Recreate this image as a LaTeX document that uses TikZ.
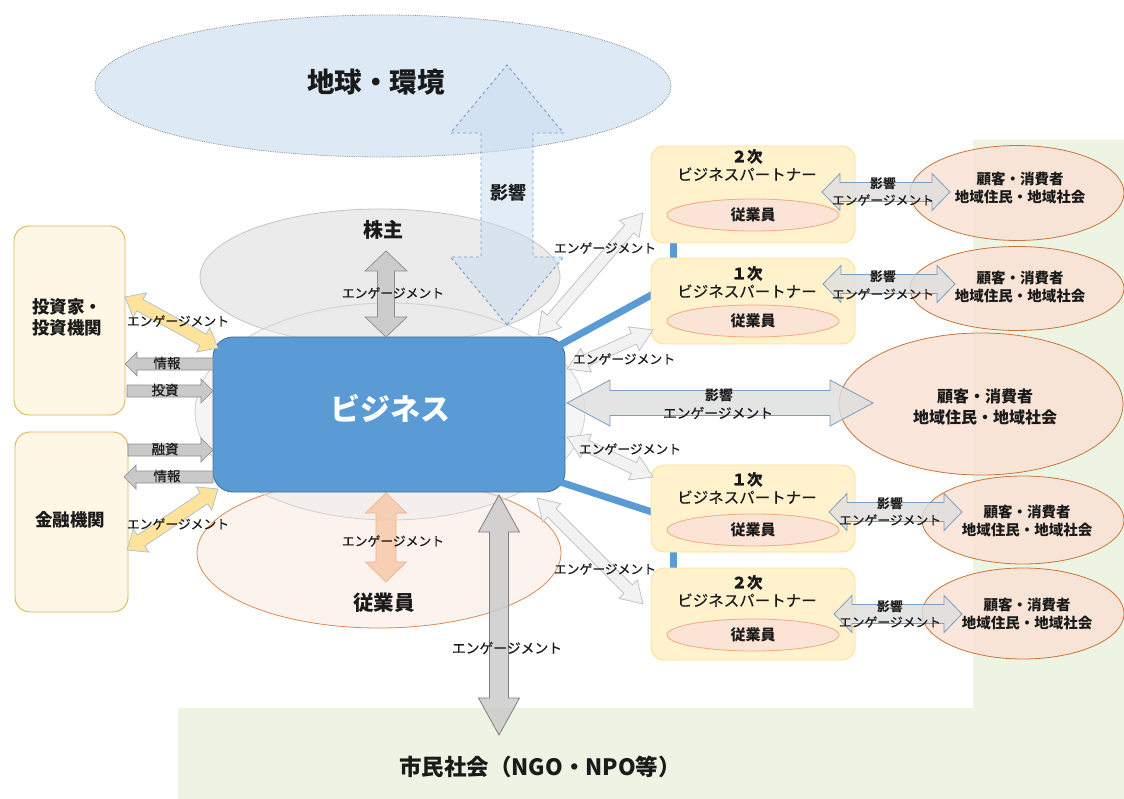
\documentclass[tikz,border=0pt]{standalone}
\usepackage{fontspec}
\setmainfont{Noto Sans CJK JP}
\newfontfamily\jpr{Noto Sans CJK JP}[FakeBold=0.35]
\usetikzlibrary{calc,shapes.geometric}

\definecolor{bgGreen}{HTML}{EDF4E4}
\definecolor{earthF}{HTML}{DDE9F5}
\definecolor{earthB}{HTML}{8E8E8E}
\definecolor{dashB}{HTML}{7A9CC6}
\definecolor{dashF}{HTML}{C9DDF2}
\definecolor{grayEF}{HTML}{EBEBEB}
\definecolor{grayEB}{HTML}{C4C4C4}
\definecolor{empF}{HTML}{FDF3EE}
\definecolor{empB}{HTML}{D98A55}
\definecolor{bizF}{HTML}{5B9BD5}
\definecolor{bizB}{HTML}{41719C}
\definecolor{lboxF}{HTML}{FFF7E5}
\definecolor{lboxB}{HTML}{D6B656}
\definecolor{yelF}{HTML}{FFE39A}
\definecolor{yelB}{HTML}{A8BFD0}
\definecolor{gArF}{HTML}{C9C9C9}
\definecolor{gArB}{HTML}{8C8C8C}
\definecolor{ltArF}{HTML}{F2F2F2}
\definecolor{ltArB}{HTML}{BDBDBD}
\definecolor{bgArF}{HTML}{DEDEDE}
\definecolor{bgArB}{HTML}{7D9DBE}
\definecolor{pF}{HTML}{FFF2CC}
\definecolor{pB}{HTML}{FFE08F}
\definecolor{inF}{HTML}{FBE3D6}
\definecolor{inB}{HTML}{F2A97D}
\definecolor{cuF}{HTML}{FAE2D4}
\definecolor{cuB}{HTML}{C8753C}
\definecolor{orArF}{HTML}{F6C6A6}
\definecolor{orArB}{HTML}{F4B183}
\definecolor{txt}{HTML}{1A1A1A}

% double-headed block arrow: style, from, to, shaft half, head half, head length
\newcommand\dblarrow[6]{%
 \draw[#1] let \p1=(#2), \p2=(#3), \n1={atan2(\y2-\y1,\x2-\x1)} in
  (\p1) -- ($(\p1)+(\n1:#6)+(\n1+90:#5)$) -- ($(\p1)+(\n1:#6)+(\n1+90:#4)$)
  -- ($(\p2)+(\n1+180:#6)+(\n1+90:#4)$) -- ($(\p2)+(\n1+180:#6)+(\n1+90:#5)$)
  -- (\p2) -- ($(\p2)+(\n1+180:#6)+(\n1-90:#5)$) -- ($(\p2)+(\n1+180:#6)+(\n1-90:#4)$)
  -- ($(\p1)+(\n1:#6)+(\n1-90:#4)$) -- ($(\p1)+(\n1:#6)+(\n1-90:#5)$) -- cycle;}
% single-headed block arrow (head at the second point)
\newcommand\sglarrow[6]{%
 \draw[#1] let \p1=(#2), \p2=(#3), \n1={atan2(\y2-\y1,\x2-\x1)} in
  ($(\p1)+(\n1+90:#4)$) -- ($(\p2)+(\n1+180:#6)+(\n1+90:#4)$) -- ($(\p2)+(\n1+180:#6)+(\n1+90:#5)$)
  -- (\p2) -- ($(\p2)+(\n1+180:#6)+(\n1-90:#5)$) -- ($(\p2)+(\n1+180:#6)+(\n1-90:#4)$)
  -- ($(\p1)+(\n1-90:#4)$) -- cycle;}

\tikzset{
 lbox/.style={draw=lboxB, fill=lboxF, rounded corners=15pt, line width=0.9pt, inner sep=0, align=center, font=\bfseries\fontsize{17}{21}\selectfont},
 pbox/.style={draw=pB, fill=pF, rounded corners=13pt, line width=0.9pt, inner sep=0, minimum width=204pt},
 inell/.style={ellipse, draw=inB, fill=inF, line width=0.8pt, minimum width=172pt, minimum height=32pt, inner sep=0, font=\bfseries\fontsize{15}{17}\selectfont},
 cust/.style={ellipse, draw=cuB, fill=cuF, fill opacity=0.85, line width=0.8pt, inner sep=0},
 ctext/.style={align=center, inner sep=0, font=\bfseries\fontsize{14.5}{18}\selectfont},
 ptext/.style={align=center, inner sep=0, font=\jpr\fontsize{15.5}{18}\selectfont},
 lbl/.style={inner sep=0, font=\jpr\fontsize{12.8}{14}\selectfont},
 lblb/.style={inner sep=0, font=\jpr\fontsize{13.8}{15}\selectfont},
 lbli/.style={inner sep=0, font=\jpr\fontsize{13.5}{15}\selectfont},
 lblk/.style={inner sep=0, font=\bfseries\fontsize{12.8}{14}\selectfont},
 yarr/.style={fill=yelF, draw=yelB, line width=0.7pt},
 garr/.style={fill=gArF, draw=gArB, line width=0.7pt},
 larr/.style={fill=ltArF, draw=ltArB, line width=0.7pt},
 barr/.style={fill=bgArF, fill opacity=0.8, draw=bgArB, line width=0.8pt},
 darr/.style={fill=dashF, fill opacity=0.55, draw=dashB, dashed, line width=0.9pt},
 sharr/.style={fill=gArF, fill opacity=0.9, draw=gArB, line width=0.7pt},
 emarr/.style={fill=orArF, fill opacity=0.8, draw=orArB, line width=0.7pt},
 civarr/.style={fill=gArF, fill opacity=0.8, draw=gArB!90!black, line width=0.8pt},
 bline/.style={draw=bizF, line width=7pt},
 every node/.style={text=txt}
}

\begin{document}
\begin{tikzpicture}[x=1pt,y=-1pt]
\useasboundingbox (0,0) rectangle (1124,799);
\fill[white] (0,0) rectangle (1124,799);

% green background (civil society / customers area)
\fill[bgGreen] (973,140) -- (1124,140) -- (1124,799) -- (178,799) -- (178,708) -- (973,708) -- cycle;

% earth
\node[ellipse, draw=earthB, fill=earthF, line width=0.8pt, densely dotted, minimum width=576pt, minimum height=142pt, inner sep=0] (earth) at (383,86) {};

% shareholders, employees and business surroundings
\node[ellipse, draw=grayEB, fill=grayEF, line width=0.8pt, minimum width=360pt, minimum height=136pt, inner sep=0] (sh) at (380,277) {};
\node[ellipse, draw=empB, fill=empF, line width=0.8pt, minimum width=364pt, minimum height=150pt, inner sep=0] (emp) at (379,553) {};
\node[ellipse, draw=grayEB!80, fill=grayEF, fill opacity=0.45, line width=0.8pt, minimum width=390pt, minimum height=217pt, inner sep=0] (sur) at (390,411.5) {};

% dashed influence arrow to the earth
\coordinate (dA1) at (507,65); \coordinate (dA2) at (507,325);
\dblarrow{darr}{dA2}{dA1}{26pt}{56.5pt}{68pt}

% business
\node[draw=bizB, fill=bizF, line width=0.9pt, rounded corners=20pt, minimum width=352pt, minimum height=155pt, inner sep=0] (biz) at (389,414.5) {};

% blue chain lines
\coordinate (bl1a) at (560,345); \coordinate (bl1b) at (655,293);
\coordinate (bl2a) at (557,481); \coordinate (bl2b) at (655,513);
\draw[bline] (bl1a) -- (bl1b);
\draw[bline] (bl2a) -- (bl2b);
\coordinate (v1a) at (673,240); \coordinate (v1b) at (673,260);
\coordinate (v2a) at (673,549); \coordinate (v2b) at (673,570);
\draw[bline] (v1a) -- (v1b);
\draw[bline] (v2a) -- (v2b);

% partner boxes
\node[pbox, minimum height=97pt] (p2t) at (753,194.5) {};
\node[pbox, minimum height=86pt] (p1t) at (753,301) {};
\node[pbox, minimum height=87pt] (p1b) at (753,508.5) {};
\node[pbox, minimum height=92pt] (p2b) at (753,614) {};
\node[inell] (e2t) at (753,215) {従業員};
\node[inell] (e1t) at (753,321) {従業員};
\node[inell] (e1b) at (753,530) {従業員};
\node[inell] (e2b) at (753,635) {従業員};
\node[ptext] (t2t) at (747,165) {\textbf{２次}\\ビジネスパートナー};
\node[ptext] (t1t) at (747,282) {\textbf{１次}\\ビジネスパートナー};
\node[ptext] (t1b) at (747,488) {\textbf{１次}\\ビジネスパートナー};
\node[ptext] (t2b) at (747,591) {\textbf{２次}\\ビジネスパートナー};

% customers
\node[cust, minimum width=214pt, minimum height=95pt] (c1) at (1017,193) {};
\node[cust, minimum width=214pt, minimum height=84pt] (c2) at (1017,288.5) {};
\node[cust, minimum width=284pt, minimum height=142pt] (cb) at (981,404) {};
\node[cust, minimum width=202pt, minimum height=88pt] (c3) at (1023,520) {};
\node[cust, minimum width=202pt, minimum height=91pt] (c4) at (1023,613.5) {};

% left boxes
\node[lbox, minimum width=111pt, minimum height=189pt] (inv) at (69.5,320.5) {};
\node[lbox, minimum width=113pt, minimum height=180pt] (fin) at (71.5,522) {};

% left arrows
\coordinate (y1a) at (125,297); \coordinate (y1b) at (218,348);
\coordinate (y2a) at (127,550); \coordinate (y2b) at (218,489);
\dblarrow{yarr}{y1a}{y1b}{6.5pt}{14pt}{17pt}
\dblarrow{yarr}{y2a}{y2b}{6.5pt}{14pt}{17pt}
\coordinate (i1a) at (213,364); \coordinate (i1b) at (125,364);
\coordinate (i2a) at (127,391); \coordinate (i2b) at (213,391);
\coordinate (i3a) at (128,450); \coordinate (i3b) at (213,450);
\coordinate (i4a) at (213,477); \coordinate (i4b) at (124,477);
\sglarrow{garr}{i1a}{i1b}{6pt}{12pt}{12pt}
\sglarrow{garr}{i2a}{i2b}{6pt}{12pt}{12pt}
\sglarrow{garr}{i3a}{i3b}{6pt}{12pt}{12pt}
\sglarrow{garr}{i4a}{i4b}{6pt}{12pt}{12pt}

% vertical arrows
\coordinate (sa1) at (386,251); \coordinate (sa2) at (386,337);
\dblarrow{sharr}{sa1}{sa2}{8.5pt}{21pt}{20pt}
\coordinate (ea1) at (386,493); \coordinate (ea2) at (386,582);
\dblarrow{emarr}{ea1}{ea2}{10pt}{20.5pt}{20pt}
\coordinate (ca1) at (499,495); \coordinate (ca2) at (499,735);
\dblarrow{civarr}{ca1}{ca2}{9.5pt}{20.5pt}{37pt}

% engagement arrows to partners
\coordinate (g1a) at (538,335); \coordinate (g1b) at (643,213);
\coordinate (g2a) at (567,369); \coordinate (g2b) at (653,330);
\coordinate (g3a) at (567,437); \coordinate (g3b) at (653,477);
\coordinate (g4a) at (537,498); \coordinate (g4b) at (643,604);
\dblarrow{larr}{g1a}{g1b}{6pt}{13pt}{21pt}
\dblarrow{larr}{g2a}{g2b}{6pt}{13pt}{21pt}
\dblarrow{larr}{g3a}{g3b}{6pt}{13pt}{21pt}
\dblarrow{larr}{g4a}{g4b}{6pt}{13pt}{21pt}

% big arrow to customers
\coordinate (ba1) at (567,403); \coordinate (ba2) at (873,403);
\dblarrow{barr}{ba1}{ba2}{12.5pt}{23pt}{43pt}

% partner-customer arrows
\coordinate (q1a) at (822,192); \coordinate (q1b) at (950,192);
\coordinate (q2a) at (823,284); \coordinate (q2b) at (955,284);
\coordinate (q3a) at (829,512); \coordinate (q3b) at (962,512);
\coordinate (q4a) at (834,614); \coordinate (q4b) at (962,614);
\dblarrow{barr}{q1a}{q1b}{9.5pt}{18.5pt}{18pt}
\dblarrow{barr}{q2a}{q2b}{9.5pt}{18.5pt}{18pt}
\dblarrow{barr}{q3a}{q3b}{9.5pt}{18.5pt}{18pt}
\dblarrow{barr}{q4a}{q4b}{9.5pt}{18.5pt}{18pt}

% ---- texts ----
\node[inner sep=0, font=\bfseries\fontsize{27.5}{30}\selectfont] (tEarth) at (376,82) {地球・環境};
\node[inner sep=0, font=\bfseries\fontsize{18}{20}\selectfont] (tInf) at (508,193) {影響};
\node[inner sep=0, font=\bfseries\fontsize{20}{22}\selectfont] (tSh) at (383,230) {株主};
\node[inner sep=0, font=\bfseries\fontsize{30}{32}\selectfont, text=white] (tBiz) at (390,408) {ビジネス};
\node[inner sep=0, font=\bfseries\fontsize{20.5}{22}\selectfont] (tEmp) at (384,603) {従業員};
\node[inner sep=0, font=\bfseries\fontsize{22.5}{24}\selectfont] (tCiv) at (540,767) {市民社会（NGO・NPO等）};
\node[inner sep=0, align=center, font=\bfseries\fontsize{17.5}{21}\selectfont] (tInv) at (67,317) {投資家・\\投資機関};
\node[inner sep=0, font=\bfseries\fontsize{17.5}{21}\selectfont] (tFin) at (70,520) {金融機関};

\node[ctext] (tc1) at (1020,188) {顧客・消費者\\地域住民・地域社会};
\node[ctext] (tc2) at (1020,286.5) {顧客・消費者\\地域住民・地域社会};
\node[ctext, font=\bfseries\fontsize{16}{21}\selectfont] (tcb) at (985,406.5) {顧客・消費者\\地域住民・地域社会};
\node[ctext] (tc3) at (1027,521) {顧客・消費者\\地域住民・地域社会};
\node[ctext] (tc4) at (1027,613.5) {顧客・消費者\\地域住民・地域社会};

\node[lbl] (l1) at (178,321) {エンゲージメント};
\node[lbl] (l2) at (178,524) {エンゲージメント};
\node[lbli] (l3) at (167,363) {情報};
\node[lbli] (l4) at (165,390) {投資};
\node[lbli] (l5) at (165,449) {融資};
\node[lbli] (l6) at (167,476) {情報};
\node[lbl] (l7) at (393,293) {エンゲージメント};
\node[lbl] (l8) at (393,541) {エンゲージメント};
\node[lblb] (l9) at (507,648) {エンゲージメント};
\node[lbl] (l10) at (605,248) {エンゲージメント};
\node[lbl] (l11) at (624,359) {エンゲージメント};
\node[lbl] (l12) at (630,449) {エンゲージメント};
\node[lbl] (l13) at (605,569) {エンゲージメント};
\node[inner sep=0, font=\bfseries\fontsize{13.8}{15}\selectfont] (l14) at (719,395) {影響};
\node[lblb] (l15) at (718,413) {エンゲージメント};
\node[lblk] (l16) at (883,184) {影響};
\node[lbl] (l17) at (883,200) {エンゲージメント};
\node[lblk] (l18) at (883,277) {影響};
\node[lbl] (l19) at (883,294) {エンゲージメント};
\node[lblk] (l20) at (890,504) {影響};
\node[lbl] (l21) at (890,520) {エンゲージメント};
\node[lblk] (l22) at (890,607) {影響};
\node[lbl] (l23) at (890,622) {エンゲージメント};
\end{tikzpicture}
\end{document}
